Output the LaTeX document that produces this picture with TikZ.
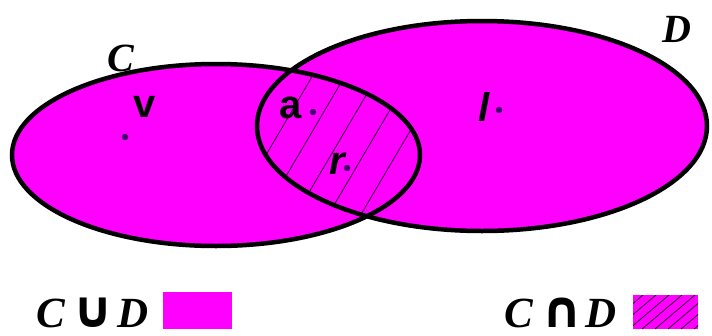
\documentclass[tikz,border=0pt]{standalone}
\usepackage{fontspec}
\setmainfont{Liberation Serif}
\setsansfont{Liberation Sans}
\newfontfamily\symfont{DejaVu Sans}
\definecolor{mag}{RGB}{255,0,255}
\definecolor{dotc}{RGB}{70,0,110}
\definecolor{hatchc}{RGB}{60,0,70}
\def\Cpath{(216,155) ellipse [x radius=204, y radius=91]}
\def\Dpath{(482,126) ellipse [x radius=225, y radius=105]}
\tikzset{
  outline/.style={draw=black, line width=4.5pt},
  hatchline/.style={draw=hatchc, line width=0.9pt},
  biglab/.style={font=\fontsize{40}{40}\selectfont\bfseries\itshape, inner sep=0pt},
  smalllab/.style={font=\sffamily\fontsize{40}{40}\selectfont\bfseries, inner sep=0pt},
  slantlab/.style={font=\sffamily\fontsize{40}{40}\selectfont\bfseries\itshape, inner sep=0pt},
  leglab/.style={font=\fontsize{43}{43}\selectfont\bfseries\itshape, inner sep=0pt},
  legsym/.style={font=\symfont\fontsize{51}{51}\selectfont\bfseries, inner sep=0pt},
  pt/.style={fill=dotc, circle, inner sep=0pt, minimum size=6.5pt}
}
\begin{document}
\begin{tikzpicture}[x=1pt,y=-1pt]
\useasboundingbox (0,0) rectangle (712,335);
% fills
\fill[mag] \Cpath;
\fill[mag] \Dpath;
% hatch in intersection
\begin{scope}
  \clip \Cpath;
  \clip \Dpath;
  \foreach \k in {0,...,4}
    \draw[hatchline] ({216+32.5*\k},240) -- ({333.6+32.5*\k},40);
\end{scope}
% outlines
\draw[outline] \Cpath;
\draw[outline] \Dpath;
% set labels
\node[biglab] (Clab) at (121,58) {C};
\node[biglab] (Dlab) at (677,29) {D};
% elements
\node[smalllab] (v) at (145,107) {v};
\node[pt] (vp) at (125,137) {};
\node[smalllab] (a) at (291,108) {a};
\node[pt] (ap) at (313,112) {};
\node[slantlab] (r) at (337,164) {r};
\node[pt] (rp) at (347,168) {};
\node[slantlab] (l) at (484,107) {l};
\node[pt] (lp) at (499,110) {};
% legend union
\node[leglab] (uC) at (51,313) {C};
\node[legsym] (uS) at (93,313) {∪};
\node[leglab] (uD) at (133,313) {D};
\node[fill=mag, inner sep=0pt, minimum width=69pt, minimum height=37pt] (ubox) at (197.5,310.5) {};
% legend intersection
\node[leglab] (iC) at (519,313) {C};
\node[legsym] (iS) at (562,313) {∩};
\node[leglab] (iD) at (601,313) {D};
\node[fill=mag, inner sep=0pt, minimum width=65pt, minimum height=34pt,
  path picture={
    \foreach \k in {0,...,8}
      \draw[hatchline] ([xshift={-30pt+13*\k}]path picture bounding box.south west) -- ++(40pt,34pt);
  }] (ibox) at (665.5,312) {};
\end{tikzpicture}
\end{document}
